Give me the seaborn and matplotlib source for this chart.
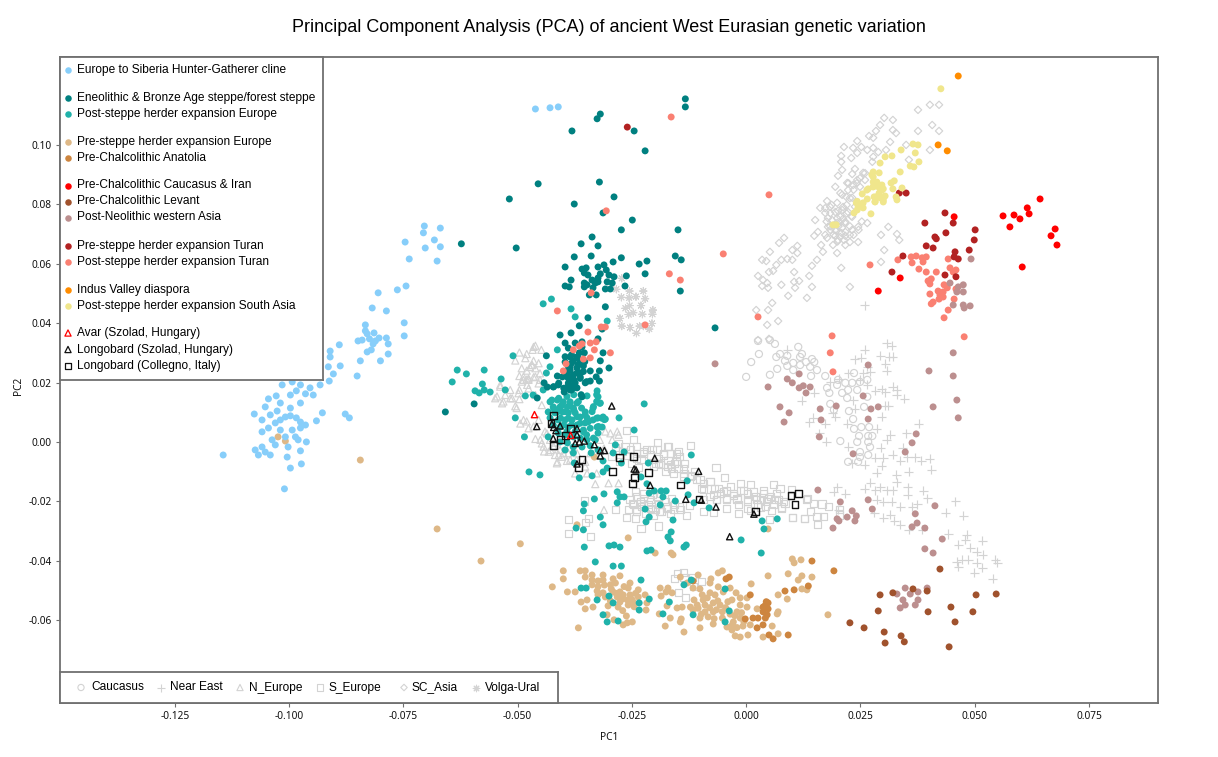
import matplotlib
matplotlib.use("Agg")
import matplotlib.pyplot as plt
import pandas as pd
import seaborn as sns

# all coordinates: (PC1, PC2) x 1000
hunter_gatherer = [(-70.4,72.7),(-70.6,70.4),(-66.9,72),(-68.2,68),(-74.6,67.3),(-66.9,65.7),(-70.2,65.3),(-73.7,61.6),(-67.6,60.9),(-74.4,52.5),(-76.3,51.2),(-80.5,50.2),(-81.8,45.1),(-78.7,44.1),(-74.8,40.1),(-74.8,35.7),(-83.3,39.4),(-83.3,37.4),(-82.9,36.4),(-81.4,36.7),(-82.4,34.7),(-84.9,34),(-84,34.3),(-80.3,35),(-78.7,35),(-81.1,34),(-81.6,33),(-78.3,33),(-78.3,29.6),(-82,31),(-82.9,30.3),(-89,32.7),(-91,30.6),(-91,28.6),(-84.4,27.3),(-80,27.3),(-88.8,25.6),(-91.4,25.3),(-90.3,22.9),(-85.1,22.2),(-91.2,20.5),
(-87.7,9.4),(-86.8,8.1),(-92.7,9.8),(-94,7.1),(-93.2,19.2),(-95.4,18.2),(-97.5,19.2),(-99.3,20.2),(-96.4,16.2),(-98.4,17.2),(-99.7,15.8),(-101.5,19.2),(-104.5,14.5),(-102.8,15.5),(-105.2,11.8),(-101.9,13.1),(-99.7,11.4),(-97.5,13.1),(-94.7,15.8),(-107.6,9.4),(-105.9,7.4),(-104.1,9.1),(-101.9,7.4),(-100.8,8.4),(-99.7,8.8),(-98.4,8.1),(-97.5,6.7),(-103,6.4),(-104.5,4.7),(-105.9,3.4),(-101.9,4),(-99.3,4),(-97.5,4.7),(-96.4,5.7),(-100.8,1.7),(-98.6,1.7),(-103.7,.7),(-105.9,-1.7),(-107.4,-2.7),(-105.2,-3.4),(-103,-1),(-100.2,-1.7),(-98,.7),(-96.2,0),(-106.7,-4.4),(-104.1,-4.4),(-100.4,-5.1),(-97.5,-3),(-99.7,-8.8),(-97.3,-7.4),(-101,-15.8),(-114.4,-4.4),(-102.6,10.4),(-46.1,112.1),(-42.9,112.5),(-41.1,112.8)]

steppe = [(-13.3,115.5),(-13.3,112.8),(-31.9,110.4),(-32.6,108.8),(-38.1,104.7),(-24.5,104.7),(-22.1,98),(-32.1,87.5),(-45.5,86.9),(-51.8,81.8),(-28.9,82.5),(-37.6,80.1),(-31.3,77.1),(-24.9,74.7),(-27.3,71.4),(-14.9,71.4),(-33.7,69),(-36.1,66.7),(-32.4,66),(-62.3,66.7),(-50.3,65.3),(-37.6,62.3),(-33.9,62.6),(-15.5,62.6),(-14.2,61.3),(-27.3,62),(-29.1,60.6),(-23.4,59.9),(-21.7,60.9),(-39.6,58.9),(-22.1,56.6),(-26.2,55.9),(-38.3,54.5),(-26.5,52.5),(-14.4,50.8),(-6.8,38.4),
(-35.9,58.2),(-35,58.6),(-32.4,58.9),(-31.1,59.6),(-30.6,57.9),(-35.4,56.9),(-34.6,56.2),(-31.9,56.6),(-32.4,55.2),(-30,56.2),(-28.9,55.6),(-33.7,54.5),(-30.4,53.9),(-29.3,53.5),(-35.4,53.5),(-34.8,52.9),(-33,53.5),(-32.4,53.9),(-33.5,51.9),(-39.6,52.5),(-38.7,52.2),(-30.8,51.5),(-29.7,51.5),(-34.3,49.5),(-32.8,49.5),(-35.4,52.2),
(-30.8,45.5),(-34.6,41.8),(-36.5,39.1),(-38.3,36.7),(-40.7,36),(-31.5,38),(-32.4,34.7),(-35.9,33.7),(-39.6,33.3),(-37.4,33.3),(-38.9,31.6),(-35.9,32),(-43.7,29),(-36.5,30),(-35.4,30),(-37,28.6),(-38.5,28.6),(-39.6,26.9),(-37.8,27.3),(-36.3,26.9),(-35.6,25.6),(-31.9,27.3),(-32.1,23.9),(-30,24.9),(-34.1,23.9),(-38.5,25.3),(-37,24.9),(-39.1,24.2),(-41.3,22.2),(-40.2,21.9),(-37.8,22.6),(-36.3,21.9),(-38.9,21.5),(-37.8,20.9),(-32.8,21.9),(-32.1,20.5),(-34.1,20.5),(-35.2,19.9),(-44.2,19.9),(-43.5,18.5),(-42.2,18.5),(-41.1,19.2),(-38.1,18.9),(-37.4,19.9),(-39.1,18.5),(-37.8,18.2),(-31.3,30),(-59.5,12.8),(-65.8,10.1),(-39.8,16.8),(-38.5,17.5),(-37,18.2),(-45.7,14.8),(-35.9,15.2),(-38.5,21.5),(-39.1,23.2),(-36.3,23.2),
(-38.5,24.2),(-37,23.2),(-35.6,23.7),(-39.2,22),(-37.7,20.9),(-36.3,21.4),(-34.9,20.3),(-38.9,19.8),(-37.4,18.6),(-38.2,26.5),(-36.8,25.9),(-35.3,27),(-39.6,28.7),(-38.2,29.3),(-36.8,28.2),(-41,19.8),(-42.1,18.6),(-39.9,18.1),(-38.2,17.5),(-36.1,15.9)]

post_steppe_europe = [(-44.4,46.5),(-42.6,48.1),(-38.3,44.8),(-37.4,42.1),(-30.4,40.7),(-41.3,31),(-51,29),(-42.9,25.3),(-43.7,23.2),(-63.2,24.2),(-61.2,22.9),(-57.3,24.2),(-53.6,21.2),(-64.3,20.2),(-57.7,19.5),(-59.3,17.2),(-58.4,16.5),(-57.3,17.5),(-56,16.8),(-52.7,17.5),(-48.3,15.5),(-46.6,15.8),(-44.4,17.5),(-50.5,8.1),(-48.5,1.7),(-43.3,1.7),(-22.3,12.8),(-27.8,8.1),(-24.5,4),(-28.6,-1),(-26.7,-3.4),(-47.5,-10.1),(-45.1,-11.1),(-36.5,-12.1),(-33.7,-11.4),(-31.3,-10.1),(-30.4,-8.8),(-27.3,-7.1),(-31.3,-6.4),(-33.9,-3.7),(-37.8,-3.7),(-37.6,-7.1),(-21.4,-7.1),(-12,-4.4),(-23,-11.8),(-21.7,-14.1),(-12.9,-13.1),(-28.2,-16.8),(-27.6,-18.5),(-26.7,-18.5),(-21.2,-17.2),(-20.1,-16.5),(-18.6,-16.5),(-17.5,-16.5),(-18.2,-18.5),(-31.1,-17.5),(-33.2,-19.2),(-35.4,-20.9),(-35.6,-23.2),(-28.2,-20.5),(-22.1,-22.6),(-18.8,-21.2),(-15.5,-19.9),(-12.7,-17.8),(-11.4,-20.5),(-8.1,-22.2),(-21.2,-25.3),(-21.9,-26.9),(-16,-26.3),(-31.9,-25.3),(-31.3,-27.9),(-37.2,-29),(-35.6,-29.6),(3.5,-26.6),(6.8,-25.9),(3.9,-29.3),(-1.1,-33),(-16.4,-30.3),(-17.1,-32),(-16.6,-33.3),(3.3,-37.4),(-35.4,-35.4),(-30,-35),(-28.9,-34.7),(-27.6,-35.4),(-21.7,-36.7),(-20.8,-36.4),(-13.6,-35.4),(-13.1,-34.7),
(-42.9,13.5),(-41.3,14.1),(-40,13.5),(-38.5,13.5),(-37,13.1),(-42.2,11.8),(-40.7,11.8),(-39.1,11.8),(-37.8,11.4),(-43.3,10.1),(-41.8,9.8),(-40.2,10.1),(-38.9,9.8),(-37.4,9.8),(-35.2,10.1),(-33.5,11.4),(-32.4,15.2),(-32.6,17.2),(-34.8,15.5),(-31.9,13.1),(-31.3,8.4),(-30.8,7.7),(-32.4,8.1),(-33.5,7.4),(-34.8,8.1),(-36.3,8.4),(-42.9,8.1),(-41.1,7.4),(-39.6,7.4),(-38.1,7.4),(-42.2,5.7),(-40.7,5),(-38.9,5),(-37,5.7),(-35.2,6.4),(-32.6,5),(-31.5,5),(-32.4,3),(-35.6,3.4),(-41.1,3),(-39.6,2.4),(-37.8,1.7),(-36.3,1.3),(-34.8,.7),(-33,.7),(-40.7,0),(-39.1,-.3),(-39.6,-2.7),(-37.8,-1.7),(-35.9,-1.7),(-34.1,-1.3),(-32.4,-2.7),(-29.1,-3.7),
(-33,-40.4),(-29.1,-41.8),(-27.3,-41.8),(-23,-46.5),(-36.1,-49.2),(-35,-49.2),(-30,-51.9),(-32.6,-53.2),(-29.1,-54.2),(-23.4,-54.2),(-21.2,-52.9),(-23.4,-56.6),(-31.3,-58.2),(-30.4,-60.6),(-28,-60.3),(-16.8,-53.9),(-18.2,-57.9),(-11.6,-58.2),(-13.6,-48.1),(-12,-46.5),(-4.6,-49.5),(-3.7,-56.9),(-4.6,-60.6),
(-42.5,14.1),(-41,14.7),(-39.2,15.3),(-37.7,15.9),(-40.3,12.4),(-38.5,13),(-36.7,13.6),(-42.1,11.3),(-41.2,10.2),(-39.6,10.2),(-37.7,10.8),(-36,11.4),(-40.6,8),(-38.9,8),(-37,8.5),(-35.2,9.1),(-33.7,10.2),(-39.9,5.7),(-38.2,5.7),(-36.3,6.3),(-34.5,6.8),(-32.7,8),(-31.6,8),(-39.2,3.5),(-37.4,3.5),(-35.6,4),(-34.1,4.6),(-32.3,5.2),(-32.7,15.9),(-32.7,13.6),(-32,13),(-33.4,11.9),(-31,7.5),(-34.9,2.4),(-33.4,1.3)]

pre_steppe_europe = [(-42.4,-48.8),(-40,-43.4),(-40,-46.1),(-39.1,-50.5),(-37.4,-50.5),(-36.3,-43.4),(-35.2,-43.4),(-35.2,-45.5),(-33.7,-44.8),(-31.3,-44.8),(-27.6,-45.1),(-33.7,-46.5),(-32.4,-46.8),(-31.3,-46.5),(-29.1,-46.1),(-33.7,-48.1),(-29.7,-48.1),(-28.6,-47.5),(-25.4,-47.5),(-25.8,-49.2),(-32.6,-50.2),(-31.3,-50.8),(-29.1,-50.5),(-27.6,-50.5),(-23.6,-49.8),(-32.4,-51.5),(-30.8,-52.2),(-28.2,-52.2),(-26.9,-51.5),(-25.4,-51.5),(-23.6,-52.2),(-22.1,-51.5),(-36.1,-53.9),(-34.8,-53.2),(-27.6,-53.9),(-26,-53.2),(-24.7,-53.9),(-21.7,-54.2),(-33.5,-55.6),(-30.2,-55.2),(-28,-55.6),(-25.8,-54.9),(-35.2,-56.2),(-21.9,-56.6),(-30.4,-58.2),(-26.2,-58.6),(-28.9,-59.9),(-24.9,-60.6),(-26.9,-61.6),(-26,-60.9),(-36.7,-62.6),
(-18.8,-49.2),(-17.1,-49.2),(-18.6,-51.9),(-16.2,-50.8),(-17.5,-50.5),(-17.3,-55.2),(-15.1,-55.9),(-14,-55.6),(-19,-57.9),(-16.6,-59.3),(-14.2,-59.6),(-14.4,-60.6),(-17.7,-62),(-13.6,-64),(-10.1,-62.6),(-10.5,-44.8),(-14.4,-45.5),(-12.9,-47.5),(-11.6,-49.2),(-10.1,-49.5),(-9.6,-51.5),(-7.7,-46.1),(-7.9,-47.5),(-6.1,-44.1),(-5.2,-43.4),(-6.1,-48.8),(-5,-50.5),(-3.5,-49.2),(1.1,-47.8),(4.8,-45.1),(-11.4,-53.2),(-9.4,-53.2),(-7.9,-50.8),(-6.8,-51.5),(-3.1,-53.2),(-2.2,-50.8),(-1.3,-52.5),(.2,-52.5),(-12.2,-55.6),(-10.7,-54.9),(-9,-54.9),(-7.2,-54.2),(-5.7,-54.9),(-1.3,-54.9),(.2,-55.6),(-11.6,-56.6),(-9,-57.2),(-7.2,-57.2),(-5.2,-57.2),(-2,-57.2),(2.4,-56.2),(-10.1,-59.3),(-8.3,-58.9),(-5.2,-59.3),(-2.8,-60.6),(-1.3,-59.3),(-7.2,-61.3),(-4.2,-62.3),(-.7,-62),(.9,-61.6),(-3.1,-63.3),(-2.4,-65.3),(-1.3,-65.7),(.4,-65),(3.7,-65.7),(7,-64.6),(5.7,-62),(7,-57.2),(6.8,-57.9),(10.1,-39.4),(10.5,-40.7),(12,-39.7),(9.2,-44.4),(12.2,-45.1),(11.4,-46.5),(14.4,-45.5),(7,-51.5),(9,-52.9),(12.2,-49.5),(13.3,-49.8),(17.9,-58.2),(4.8,-29.3),(-49.4,-34.3),(-25.8,-32.3),(-19.9,-37.4),(-16.4,-37.4),(-16,-38),(-37,-27.9),(-33.2,-5.1),(-67.6,-29.3),(-58,-40.1),(-84.4,-6.1),(-102.4,1.7),(-100.8,.3),
(-29.5,-49.5),(-28.4,-51),(-27,-52.8),(-25,-53),(-24.2,-51),(-29.7,-53.5),(-31,-48.2),(-32.4,-48.7),(-26.7,-48.7),(-24.5,-55.5),(-27,-56.8),(-8.5,-52.5),(-8,-55.8),(-6.5,-56.5),(-4.5,-55.8),(-3.5,-58),(-2.5,-58.5),(-1,-57.5),(-.5,-60.5),(-3,-61.5),(-2,-62.5),(-6.2,-53.5),(-10.5,-56),(-9.8,-58),(-7,-59.5),(-4,-53.8)]

anatolia = [(-11.6,-46.8),(-3.7,-45.5),(-4.4,-46.1),(.9,-51.5),(8.5,-50.2),(10.5,-49.8),(13.6,-48.5),(14.4,-40.1),(-.2,-59.6),(1.5,-59.3),(2.6,-59.3),(2.4,-62.6),(3.7,-61.6),(4.2,-59.3),(4.6,-58.2),(3.7,-57.2),(4.8,-56.2),(3.7,-55.6),(4.8,-54.2),(4.4,-53.8),(4.2,-55),(5,-65),(5.9,-66.3),(9.2,-65),(19.2,-43.4)]

levant = [(22.7,-60.9),(25.8,-62.6),(28.9,-56.9),(29.3,-51.5),(32.1,-50.8),(30.2,-64),(33.9,-65.3),(34.6,-67.3),(30.4,-67.7),(36.5,-49.5),(39.6,-50.2),(39.8,-57.2),(44.8,-55.6),(45.7,-60.6),(49.6,-57.2),(50.3,-51.5),(44.4,-69),(42.4,-42.8),(54.7,-51.2)]

western_asia = [(11.6,22.9),(9,21.2),(10.1,19.9),(12.5,18.9),(11.6,18.2),(14,18.5),(13.1,16.5),(4.8,18.5),(7.4,11.8),(9.4,9.8),(8.3,6.7),(16.2,11.1),(16.4,7.4),(16,1.7),(19.7,12.1),(26.7,25.9),(25.6,15.5),(27.3,11.1),(28.9,11.8),(26.7,7.7),(23.4,-4),(34.8,-3.4),(36.3,-.3),(37.2,2.7),(40,23.9),(45.3,30),(45.3,22.2),(46.1,14.1),(46.4,8.1),(40.9,11.8),(15.7,-16.2),(20.6,-20.2),(23.2,-23.2),(24.1,-24.9),(22.1,-25.3),(23.8,-26.6),(19.9,-25.9),(20.3,-26.6),(19,-29),(26.7,-19.5),(27.6,-22.6),(41.3,-21.5),(37,-24.2),(37.4,-27.3),(36.3,-28.6),(39.1,-29),(42.9,-32.7),(39.1,-36),(40.9,-37.4),(-6.8,26.3),(49.2,61.6),(47.5,52.9),(46.4,52.2),(44.6,53.5),(46.1,50.5),(47.5,50.5),(45.3,46.1),(47.5,46.1),(47.7,45.1),(49,45.8),(34.8,-49.2),(37.6,-50.5),(39.6,-49.2),(33,-51.2),(34.3,-53.2),(35.9,-51.2),(37,-54.9),(34.8,-54.9),(33.7,-55.9),(37.6,-53.2)]

caucasus_iran = [(64.3,81.8),(61.5,78.8),(61.9,76.8),(59.9,75.1),(58.6,76.4),(56.2,76.1),(57.7,72.4),(67.6,71.7),(66.7,69.4),(68,66.3),(60.4,58.9),(45.5,75.8),(33.7,55.2),(28.9,50.8)]

pre_steppe_turan = [(-26,106),(33.5,83.8),(35,83.8),(43.5,77.1),(45.3,73.7),(39.1,73.7),(43.7,70.4),(50.1,71.4),(49.9,68),(41.3,69),(41.6,68.4),(39.4,66),(40.9,65.3),(45.7,64),(48.8,64.6),(34.3,62.6),(45.5,62.3),(46.4,61.6),(31.9,57.2),(43.5,56.2),(45.9,55.6)]

post_steppe_turan = [(5,83.2),(-5,63.3),(2.6,42.1),(18.8,35.7),(47.7,35.4),(27.1,59.6),(33.2,61.3),(36.1,62.3),(37.2,62.6),(36.3,60.3),(38.5,62),(39.4,62.3),(38.7,60.6),(44.2,61.6),(37.8,58.2),(39.4,57.2),(41.6,57.2),(44.6,58.6),(45.3,57.2),(45.9,57.9),(40.5,54.9),(39.8,54.2),(40.2,53.2),(43.3,52.9),(44,51.9),(45.9,51.5),(40.2,49.8),(42,50.8),(43.1,50.5),(42.4,49.5),(43.1,48.8),(42.2,48.1),(45.5,48.1),(40.9,47.1),(40.5,46.5),(44.2,44.4),(43.3,41.8),(18.4,30),(19,23.6),(-16.4,109.4),(-30.6,77.8),(-16.8,56.6),(-14.4,54.5),(-33.9,50.2),(-41.3,44.1),(-31.7,38.7),(-30.8,38.7),(-22.1,39.4),(-34.6,37),(-32.8,33.7),(-34.1,33.3),(-35.9,33),(-36.5,32.3),(-37.8,31),(-33.2,31),(-29.7,30),(-34.1,28.3),(-35.6,27.9),(-39.4,26.3),(-40,23.9)]

indus_valley = [(46.4,123.2),(42,100),(44,98)]

south_asia = [(42.6,118.9),(36.5,100.3),(37.6,100),(37,97.3),(33.9,98.3),(37.8,94.3),(35.9,92.9),(36.7,92.6),(31.9,96.3),(30.4,96),(29.3,93.9),(33.7,90.9),(27.8,90.9),(29.1,90.6),(27.8,89.2),(27.8,87.5),(28.6,87.5),(32.4,87.9),(31.7,87.2),(28.9,85.9),(29.7,86.5),(27.8,85.9),(26.7,85.2),(30,85.2),(32.1,85.2),(34.1,85.5),(25.4,83.5),(29.1,83.8),(28,82.5),(30.4,82.8),(29.3,82.2),(32.8,82.5),(33,81.5),(26.5,81.8),(24.1,80.5),(25.6,80.5),(28.2,80.8),(30,80.8),(24.5,79.1),(25.6,78.8),(24.3,78.1),(23.6,77.1),(27.3,76.8),(19,73.1),(19.7,73.1),(27.5,89.9),(27.8,85.9),(29.7,84.8),(30,81.5),(28.6,82.6),(26.4,84.8),(25,79.8),(24.3,81),(28.2,80.9)]

avar_szolad = [(-46.3,9.2),(-38.4,2.2)]

longobard_szolad = [(-29.4,12.1),(-45.8,5.2),(-42.5,6),(-42.1,4.9),(-40.7,5.4),(-41.6,3.8),(-37,4.5),(-37,2.4),(-42.2,1.2),(-37.4,-.5),(-36.5,0),(-35.4,.3),(-33.2,-.9),(-31.9,-2.9),(-31,-2.9),(-31.9,-4.7),(-37,-7.4),(-20,-5.5),(-24.5,-9.1),(-24.1,-9.4),(-10.4,-9.9),(-21,-14.6),(-13.2,-19.3),(-9.8,-19.6),(-6.6,-21.9),(1.7,-24.3),(-3.6,-31.9)]

longobard_collegno = [(-42.1,9),(-42.7,6.3),(-38.4,4.6),(-39.6,2.1),(-40.6,.7),(-42.1,-1.1),(-35.9,-5.8),(-36.7,-8.5),(-27.7,-5.2),(-24.6,-5),(-29.2,-10),(-21.4,-10.4),(-24.4,-12.1),(-24.8,-13.9),(-14.4,-14.5),(-10.3,-19.2),(2.1,-23.4),(9.8,-18),(11.4,-17.4),(10.7,-21)]

ref_caucasus = [(2.6,34),(5.2,34.3),(6.3,33),(2.8,29.6),(1.1,26.9),(0,21.9),(5.2,22.6),(6.8,24.6),(11.4,32),(6.6,28.6),(7.4,29.6),(9,29),(8.5,27.3),(10.3,26.6),(11.8,28.6),(12.2,29.6),(13.1,26.9),(14.4,27.9),(14.9,26.9),(9,25.6),(10.3,24.2),(11.8,25.9),(14,25.3),(15.5,24.2),(14.2,22.2),(17.3,22.2),(20.1,20.9),(21.7,19.9),(19.9,19.2),(23.6,23.2),(23.2,19.9),(24.9,20.2),(26.5,20.9),(17.7,18.2),(18.2,16.5),(21,16.5),(22.3,17.5),(24.3,17.5),(22.1,14.8),(26.5,15.2),(18.4,12.8),(19.2,10.8),(22.5,10.4),(25.8,11.8),(23.4,7.7),(23.6,4.4),(25.2,5),(26.9,5),(24.7,2),(26.7,2),(27.6,2),(20.6,.3),(24.3,0),(26.7,0),(27.1,-1.7),(24.9,-3.4),(26.7,-4.4),(24.9,-5.1),(22.3,-6.7),(24.5,-6.7)]

ref_near_east = [(9,31),(30.8,33.3),(31.9,32.3),(26,31),(29.3,29),(23.8,27.9),(25.2,28.3),(31.3,28.6),(32.1,28.6),(30.4,26.3),(30.8,23.9),(26.5,25.3),(27.1,23.6),(25.6,23.2),(22.3,23.2),(18.4,20.2),(20.3,21.2),(24.9,20.9),(26.5,19.2),(28.2,17.2),(29.7,17.8),(32.1,18.5),(33,17.5),(33,15.8),(34.6,14.5),(30.4,16.8),(14.9,16.5),(12.2,13.8),(23.4,14.1),(23.8,11.1),(30.4,12.1),(31.1,12.1),(19.5,8.4),(19,9.8),(14.7,8.1),(13.8,6.7),(17.3,6.1),(22.1,6.1),(29.7,8.4),(37.8,6.1),(28.6,4.4),(35,3),(31.5,2.4),(16,3),(17.5,0),(30.8,.7),(22.3,-1.7),(29.5,-2),(34.3,-2),(32.1,-4.4),(28.2,-5.4),(30,-5.4),(35.2,-5.1),(37,-5.1),(33.7,-6.4),(38.3,-6.4),(40.2,-5.7),(29.7,-8.1),(23.2,-7.1),(26,-7.7),(40.5,-9.4),(35.6,-10.1),(28.6,-10.4),(32.8,-11.1),(19.9,-15.2),(19.2,-16.8),(21.7,-17.5),(27.1,-13.8),(29.3,-15.2),(28.2,-16.2),(26,-15.8),(30.8,-16.2),(32.1,-16.2),(33,-13.5),(35.4,-15.2),(38.7,-16.5),(35.4,-17.8),(39.6,-18.9),(45.7,-19.9),(28.6,-19.5),(30,-20.2),(31.9,-20.2),(33.7,-21.9),(37.4,-20.9),(36.3,-21.9),(20.1,-22.9),(28,-23.9),(30,-25.6),(31.5,-24.6),(32.4,-26.6),(33.7,-27.9),(35.6,-29.6),(38.5,-29.6),(43.7,-23.9),(47.5,-24.9),(44.2,-31),(48.3,-31.3),(47.9,-33),(51.6,-33.3),(46.4,-34.7),(49,-35.7),(50.5,-37),(51.8,-38),(47.2,-39.7),(46.1,-40.4),(48.6,-39.7),(50.5,-40.7),(54.5,-39.7),(54.9,-40.7),(46.4,-42.1),(51.6,-42.4),(49.9,-44.1),(54,-46.1),(26,46.1)]

ref_n_europe = [(-46.1,32.4),(-49.6,30.1),(-48,29.6),(-46.7,31),(-44.8,31),(-50.5,27.4),(-48.3,28.2),(-46.9,25.9),(-45.4,26.5),(-46.1,24.8),(-49.1,24.8),(-45.1,23.1),(-49.6,22.2),(-48,21),(-46.5,21.8),(-49.1,20.3),(-45.4,19.7),(-51.6,17.5),(-53.8,18.6),(-49.6,17.5),(-47.6,18),(-46.1,15.8),(-52.7,15.8),(-54.9,14.7),(-51.2,14.7),(-53.4,13),(-50.5,12),(-49.6,14.4),(-44.7,12.4),(-48.7,7.4),(-49.4,6.2),(-47.6,4.6),(-45.4,7.4),(-46.1,1),(-44.7,-.5),(-43.6,2.9),(-42.1,-1.6),(-41,-4.4),(-41.4,-7.2),(-42.8,-2.7),(-40,-3.8),(-37.4,-10.6),(-33,-14.2),(-30.1,-13.9),(-27.9,-13.9),(-31.1,-22.9),(-29.7,2.9),(-27.9,2.4),(-32,.7),(-31.1,-2.2),(-34.8,-10.6),(-32.7,-10.6),(-37.1,-6),(-35.2,-8.3),(-48.7,20.9),(-47.6,20.9),(-47.3,25.2),(-46.5,27.3),(-48,24),(-44.2,-3.2),(-39.2,-6.4),(-41.8,-.2),(-38.8,-2),
(-46.5,32),(-46.8,25.9),(-47.6,21.4),(-46.1,22),(-48.7,22),(-45.1,20.9),(-44,18.6),(-47.9,19.2),(-53.8,19.2),(-54.5,15.3),(-53.1,13.6),(-51.6,14.7),(-50.2,11.4),(-49.8,16.4),(-48,6.9),(-46.5,5.2),(-44,3.5),(-42.9,.7),(-44.3,-1.6),(-41.8,-4.4),(-40.7,-2.7),(-41.3,-6.7),(-40.3,-5),(-38.5,-6),(-38.9,-3.8),(-37,-3.8),(-43.2,-3.3),(-45,.7),(-35.2,-6.7),(-34.1,-3.8),(-30.8,3.5),(-29.3,.7),(-28.2,3.5)]

ref_s_europe = [(-26.1,3.8),(-24.6,.8),(-26.5,-1.6),(-19.4,-.1),(-17.3,-1.6),(-12.2,-1.1),(-22.5,-3.8),(-20.6,-2.7),(-18.1,-4.4),(-16.6,-3.8),(-14.8,-3.3),(-23.9,-5.5),(-19.2,-7.2),(-16.6,-7.7),(-15.2,-6.6),(-13.7,-8.9),(-6.6,-8.7),(-17.7,-10),(-15.9,-10.6),(-13.7,-11.7),(-11.9,-11.2),(-10.1,-12.8),(-7.9,-13.4),(-4.8,-12),(-6.1,-15.6),(-3.5,-15),(-1.3,-13.9),(.9,-14.2),(6,-14.2),(-9.4,-16.1),(-7.1,-17.8),(-4.9,-16.7),(-2.7,-17.3),(-.5,-16.2),(1.6,-16.7),(3.8,-16.2),(7.4,-15.6),(9.9,-16),(-9.4,-19.5),(-6.4,-19.5),(-4.2,-19.3),(-2,-19),(.2,-19.5),(2.3,-19.3),(4.9,-19),(7.1,-19.5),(8.5,-20.7),(13.2,-19.5),(14.7,-20.7),(-9.4,-23.3),(-7.1,-23.9),(-4.2,-22.4),(-1.6,-24),(.9,-23.1),(3.1,-21.9),(5.6,-23),(7.8,-21.9),(10.2,-25.5),(12.8,-25.7),(14,-23.5),(-13,-24.8),(-19.2,-28.3),(-23,-29.2),(-24.2,-25.7),(-26.1,-25.4),(-24.9,-20.7),(-23.9,-22.9),(-22.5,-20.7),(-20.6,-22.9),(-18.9,-23.5),(-17.4,-21.9),(-15.9,-22.9),(-14.5,-21.9),(-12.3,-21.3),(-28.5,-22.6),(-35.4,-19.9),(-38.9,-26),(-34.5,-25.7),(-38.9,-30.9),(-34.1,-31.9),(-35.2,-27.2),(-27.9,-.5),(-21.7,-2.7),(-20.2,-8.3),(-23,-6),(-15.1,-44.4),(-13.8,-44.1),(-15.7,-46.1),(-13.6,-45.8),(-11.8,-45.5),(-9.8,-47.1),(-11.6,-48.8),(-14.7,-50.8),(-13.3,-52.5),(15.7,-27.9),(13.4,-19.2),(16.6,-20.9),(18,-21.8),(16.9,-25),(15.5,-25),(12.8,-25.7),(10.2,-25.5),(20.4,-22.9),(20.4,-24.6),(5.2,-26),
(-25.4,-19.5),(-23.9,-18.4),(-22.5,-19),(-21,-19.5),(-19.5,-18.4),(-17.7,-20.1),(-16.3,-19),(-24.6,-21.2),(-22.8,-21.8),(-21,-22.3),(-19.2,-21.2),(-17.3,-22.3),(-15.6,-21.2),(-23.9,-23.5),(-22.1,-24),(-20.3,-24.6),(-18.5,-23.5),(-16.6,-24),(-14.4,-22.9),(-25.7,-22.9),(-22.5,-17.3),(-20.6,-17.8),(-18.8,-17.3),(-24.3,-16.7),(-23.2,-20.1),(-19.9,-22.9),(-21.4,-21.2),
(-23.9,-3.8),(-22.5,-3.3),(-21,-4.4),(-19.2,-5.5),(-18.1,-3.8),(-17.1,-6.1),(-15.6,-7.2),(-14.5,-5),(-16.4,-8.9),(-14.9,-8.9),(-13.6,-10.6),(-12.2,-11.7),(-10.8,-12.8),(-9.3,-13.9),(-7.9,-13.4),(-6.9,-15.6),(-9.7,-15.6),(-18.8,-7.7),(-17.3,-8.3),(-19.9,-7.2),(-19.5,-2.7),(-17,-1.6),(-15.2,-3.8),(-13.5,-7.2),(-11.2,-10),
(-5.7,-17.3),(-4.2,-16.2),(-2.7,-17.9),(-1.3,-16.2),(.2,-17.3),(2,-18.4),(3.8,-17.3),(5.3,-18.4),(6.7,-17.3),(-4.2,-19),(-2,-19.5),(.2,-20.1),(3.1,-19.5),(4.5,-20.1),(6.3,-19.5),(8.1,-20.1),(2.4,-21.2),(4.2,-21.8),(6,-21.2),(7.8,-22.3),(-6.4,-19.5),(-7.9,-18.4),(.2,-22.3),(-1.7,-21.2),
(-28.5,-2),(-27,-3.2),(-25.2,-2.5),(-24,-1.5),(-26,-4.6),(-27.8,-6.5),(-29.5,-4.8),(-25,-7.3),(-23.5,-8.7)]

ref_sc_asia = [(37.6,111.8),(40.2,113.5),(42.2,113.5),(30.2,109.1),(32.1,108.4),(29.3,106.7),(40.7,106.7),(42.2,104.7),(37.6,104.7),(28.4,104.7),(32.1,105),(32.8,104),(26.9,103),(27.8,102.4),(24.3,101.3),(31.5,101),(35,100),(21.4,99.3),(23.4,99),(25.2,99.3),(27.8,99),(30.6,98.3),(40.2,98.3),(26.5,98.3),(24.3,97.3),(28.9,97.6),(20.8,96.3),(23,95.6),(27.8,96),(20.8,94.3),(27.6,94.3),(35.6,95),(21,91.6),(23.8,91.9),(25.6,90.6),(20.1,89.6),(23.2,90.2),(22.1,87.2),(24.3,88.2),(26,88.2),(19.5,85.9),(23.4,86.5),(24.9,85.9),(20.6,83.8),(22.3,84.8),(21.9,82.5),(17.7,81.1),(19.9,80.5),(23.2,82.2),(16.2,78.8),(18.4,79.1),(21.2,79.1),(17.3,77.1),(19.5,77.4),(22.3,77.4),(15.1,74.7),(17.9,75.4),(20.6,75.8),(23.2,75.8),(26.5,73.7),(24.5,72.4),(31.1,72.4),(19.9,73.7),(21.7,74.1),(15.7,70.7),(18.4,71.4),(21,72.1),(23.2,71.4),(29.5,69.7),(14.9,69.4),(19.5,69.4),(21.7,69.4),(33,70),(17.7,68.7),(20.1,68),(22.7,67.3),(24.5,67.3),(8.3,68.7),(7.2,67),(33.5,68),(16.4,66.3),(19,66.3),(21.7,66.3),(16.8,64),(11.2,66),(10.1,64.6),(5.2,64),(30.2,64.6),(19.9,63.6),(11.2,63.6),(3.5,61.3),(4.4,60.9),(7.7,61.3),(9,61.6),(10.1,61.3),(15.5,61.3),(29.5,60.6),(6.6,59.6),(14.4,59.3),(20.8,58.6),(5.9,57.6),(5,57.2),(10.5,57.2),(2.6,55.9),(13.8,55.9),(3.7,54.5),(4.6,53.5),(11.6,54.2),(10.5,53.9),(3.5,52.5),(4.8,51.9),(7.7,52.9),(10.7,51.9),(14.4,52.2),(22.7,52.2),(9.2,49.2),(13.3,48.5),(5.7,46.8),(2.2,44.4),(4.8,44.4),(7,40.7),(4.6,39.4),(2.6,34.3),(5,34.7),(20.1,77.8),(21.2,75.1),(18.8,74.7),(17.9,72.4),(19.7,71.1),(21.7,70.7),(20.6,69),(22.7,69.7),
(18.4,77),(19.9,75.3),(21,78.1),(22,79.8),(18.4,72.6),(20.2,72.6),(21.6,73.7),(23,76),(22.7,72.6),(17.3,69.7),(19.1,69.7),(20.9,70.3),(20,67.5),(21.4,68),(23.5,84.9),(22.4,87.1),(24.2,87.1),(21,83.2),(22.7,82.1),(24.9,88.8),(26,90.5),(18.7,79.8),(17.3,78.7),(23.8,79.2),(22,76.9),(19.5,71.4),(17.6,74.2),(23.5,69.7),(25.3,74.2),(24.6,71.4)]

ref_volga_ural = [(-27.2,55.1),(-28.4,51.4),(-25.5,50.8),(-22.5,50.8),(-27.3,48.7),(-25.6,48.5),(-24.1,48.9),(-22.1,48.2),(-23,45.9),(-25.5,45.9),(-26.4,45),(-24.7,43.5),(-25.7,42.9),(-22.7,43),(-20.4,44.4),(-20.5,43),(-27.6,41.6),(-27.2,39),(-25.4,38.5),(-23.3,39),(-22.5,39),(-20.6,39.9),(-21.2,38),(-24,36.6)]

x_ticks = [-0.125, -0.100, -0.075, -0.050, -0.025, 0.000, 0.025, 0.050, 0.075]
y_ticks = [-0.06, -0.04, -0.02, 0.00, 0.02, 0.04, 0.06, 0.08, 0.10]

sns.set_theme(style="white")
plt.rcParams["font.family"] = ["Liberation Sans", "DejaVu Sans"]

W, H = 1218, 757
FRAME = "#707070"
GREY = "#d3d3d3"
fig = plt.figure(figsize=(W / 100, H / 100), dpi=100)
ax = fig.add_axes([60 / W, 1 - 703 / H, 1098 / W, 646 / H])


def draw(points, color, marker="o", size=25, hollow=False, lw=0.85):
    df = pd.DataFrame(points, columns=["PC1", "PC2"]) / 1000
    sns.scatterplot(data=df, x="PC1", y="PC2", ax=ax, marker=marker, s=size,
                    color=color, linewidth=0, legend=False)
    coll = ax.collections[-1]
    if hollow:
        coll.set_facecolor("none")
        coll.set_edgecolor(color)
        coll.set_linewidth(lw)
    else:
        coll.set_edgecolor("none")


ASTER = (8, 2, 0)
draw(ref_caucasus, GREY, "o", 26, True)
draw(ref_near_east, GREY, "+", 42, True)
draw(ref_n_europe, GREY, "^", 26, True)
draw(ref_s_europe, GREY, "s", 26, True)
draw(ref_sc_asia, GREY, "D", 14, True)
draw(ref_volga_ural, GREY, ASTER, 28, True, 0.7)

series = [
    ("Pre-steppe herder expansion Europe", pre_steppe_europe, "#DEB887"),
    ("Pre-Chalcolithic Anatolia", anatolia, "#CD853F"),
    ("Europe to Siberia Hunter-Gatherer cline", hunter_gatherer, "#87CEFA"),
    ("Post-steppe herder expansion Europe", post_steppe_europe, "#20B2AA"),
    ("Eneolithic & Bronze Age steppe/forest steppe", steppe, "#008080"),
    ("Post-steppe herder expansion Turan", post_steppe_turan, "#FA8072"),
    ("Post-Neolithic western Asia", western_asia, "#BC8F8F"),
    ("Pre-Chalcolithic Levant", levant, "#A0522D"),
    ("Pre-steppe herder expansion Turan", pre_steppe_turan, "#B22222"),
    ("Pre-Chalcolithic Caucasus & Iran", caucasus_iran, "#FF0000"),
    ("Post-steppe herder expansion South Asia", south_asia, "#F0E68C"),
    ("Indus Valley diaspora", indus_valley, "#FF8C00"),
]
colors = {name: c for name, _, c in series}
for name, pts, c in series:
    draw(pts, c)
draw(longobard_collegno, "#111111", "s", 24, True, 1.0)
draw(longobard_szolad, "#111111", "^", 20, True, 1.0)
draw(avar_szolad, "#FF0000", "^", 20, True, 1.0)

ax.set_xlim(-0.1501, 0.0901)
ax.set_ylim(-0.0879, 0.1296)
ax.set_xticks(x_ticks)
ax.set_xticklabels([f"{t:.3f}" for t in x_ticks])
ax.set_yticks(y_ticks)
ax.set_yticklabels([f"{t:.2f}" for t in y_ticks])
ax.tick_params(axis="both", length=3, width=0.8, color=FRAME, labelsize=7.3,
               labelcolor="#111111", pad=3, bottom=True, left=True)
for lab in ax.get_xticklabels() + ax.get_yticklabels():
    lab.set_family(["Noto Sans", "DejaVu Sans"])
ax.set_xlabel("")
ax.set_ylabel("")
for sp in ax.spines.values():
    sp.set_color(FRAME)
    sp.set_linewidth(1.3)
fig.text(609 / W, 1 - 737 / H, "PC1", ha="center", va="center", fontsize=7.3,
         color="#111111", family=["Noto Sans", "DejaVu Sans"])
fig.text(18 / W, 1 - 386 / H, "PC2", ha="center", va="center", rotation=90,
         fontsize=7.3, color="#111111", family=["Noto Sans", "DejaVu Sans"])
fig.text(609 / W, 1 - 27 / H,
         "Principal Component Analysis (PCA) of ancient West Eurasian genetic variation",
         ha="center", va="center", fontsize=13, color="black")

# main legend box (axis units are pixels inside the box)
leg = fig.add_axes([60 / W, 1 - 380 / H, 263 / W, 323 / H], zorder=5, facecolor="white")
leg.set_xlim(0, 263)
leg.set_ylim(323, 0)
leg.set_xticks([])
leg.set_yticks([])
for sp in leg.spines.values():
    sp.set_color(FRAME)
    sp.set_linewidth(1.3)
rows = [
    (12.5, "Europe to Siberia Hunter-Gatherer cline"),
    (40.5, "Eneolithic & Bronze Age steppe/forest steppe"),
    (56.5, "Post-steppe herder expansion Europe"),
    (84.5, "Pre-steppe herder expansion Europe"),
    (100.5, "Pre-Chalcolithic Anatolia"),
    (128.5, "Pre-Chalcolithic Caucasus & Iran"),
    (144.5, "Pre-Chalcolithic Levant"),
    (160.5, "Post-Neolithic western Asia"),
    (188.5, "Pre-steppe herder expansion Turan"),
    (204.5, "Post-steppe herder expansion Turan"),
    (232.5, "Indus Valley diaspora"),
    (248.5, "Post-steppe herder expansion South Asia"),
]
for y, name in rows:
    leg.scatter([8], [y], s=22, color=colors[name], linewidths=0)
    leg.text(17, y, name, va="center", ha="left", fontsize=8.55, color="black")
for y, name, m, c in [(276, "Avar (Szolad, Hungary)", "^", "#FF0000"),
                      (292.5, "Longobard (Szolad, Hungary)", "^", "#111111"),
                      (309, "Longobard (Collegno, Italy)", "s", "#111111")]:
    leg.scatter([8], [y], s=20, marker=m, facecolors="none", edgecolors=c, linewidths=0.9)
    leg.text(17, y, name, va="center", ha="left", fontsize=8.55, color="black")

# reference-population legend box
leg2 = fig.add_axes([60 / W, 1 - 703 / H, 498 / W, 31 / H], zorder=5, facecolor="white")
leg2.set_xlim(0, 498)
leg2.set_ylim(31, 0)
leg2.set_xticks([])
leg2.set_yticks([])
for sp in leg2.spines.values():
    sp.set_color(FRAME)
    sp.set_linewidth(1.3)
for xm, xt, name, m, s in [(21, 31, "Caucasus", "o", 20), (101, 110, "Near East", "+", 30),
                           (180, 189, "N_Europe", "^", 20), (260, 269, "S_Europe", "s", 20),
                           (344, 352, "SC_Asia", "D", 11), (416, 425, "Volga-Ural", ASTER, 22)]:
    if m in ("+", ASTER):
        leg2.scatter([xm], [15.5], s=s, marker=m, color=GREY, linewidths=0.8)
    else:
        leg2.scatter([xm], [15.5], s=s, marker=m, facecolors="none", edgecolors=GREY, linewidths=0.8)
    leg2.text(xt, 15.5, name, va="center", ha="left", fontsize=8.55, color="black")

fig.savefig("out.png", dpi=100)
